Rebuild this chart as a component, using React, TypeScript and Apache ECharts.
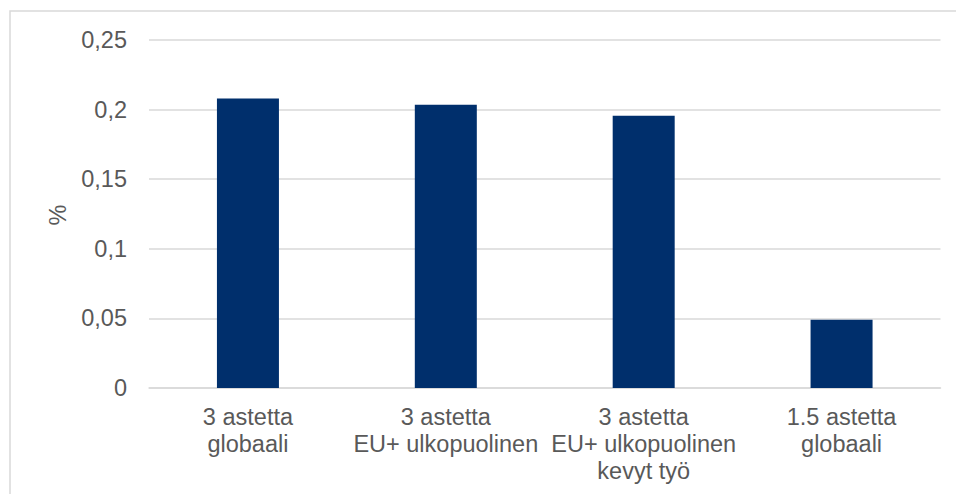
import React, { useEffect, useRef } from "react";
import * as echarts from "echarts";

const categories = [
  "3 astetta\nglobaali",
  "3 astetta\nEU+ ulkopuolinen",
  "3 astetta\nEU+ ulkopuolinen\nkevyt työ",
  "1.5 astetta\nglobaali",
];
const values = [0.208, 0.2035, 0.1955, 0.049];
const yAxisName = "%";

const FONT = "'Liberation Sans', Arial, sans-serif";

export default function App() {
  const ref = useRef<HTMLDivElement>(null);
  useEffect(() => {
    const chart = echarts.init(ref.current!, undefined, { renderer: "svg" });
    chart.setOption({
      animation: false,
      backgroundColor: "#ffffff",
      textStyle: { fontFamily: FONT },
      grid: { left: 149, right: 15.5, top: 40, bottom: 106 },
      xAxis: {
        type: "category",
        data: categories,
        axisTick: { show: false },
        axisLine: { lineStyle: { color: "#d9d9d9", width: 1.5 } },
        axisLabel: {
          interval: 0,
          color: "#595959",
          fontSize: 23.5,
          fontFamily: FONT,
          lineHeight: 27,
          margin: 15,
        },
      },
      yAxis: {
        type: "value",
        min: 0,
        max: 0.25,
        interval: 0.05,
        axisLine: { show: false },
        axisTick: { show: false },
        splitLine: { lineStyle: { color: "#d9d9d9", width: 1.5 } },
        axisLabel: {
          color: "#595959",
          fontSize: 23.5,
          fontFamily: FONT,
          margin: 22,
          formatter: (v: number) => String(Math.round(v * 100) / 100).replace(".", ","),
        },
      },
      graphic: [
        {
          type: "rect",
          shape: { x: 10, y: 11, width: 960, height: 500 },
          style: { fill: "none", stroke: "#d9d9d9", lineWidth: 1.5 },
          silent: true,
          z: -1,
        },
        {
          type: "text",
          x: 58,
          y: 215,
          rotation: Math.PI / 2,
          style: {
            text: yAxisName,
            fill: "#595959",
            fontSize: 23.5,
            fontFamily: FONT,
            align: "center",
            verticalAlign: "middle",
          },
        },
      ],
      series: [
        {
          type: "bar",
          data: values,
          barWidth: 62,
          itemStyle: { color: "#002F6C" },
        },
      ],
    });
    return () => chart.dispose();
  }, []);
  return (
    <div
      ref={ref}
      style={{ position: "fixed", left: 0, top: 0, width: 956, height: 494 }}
    />
  );
}
